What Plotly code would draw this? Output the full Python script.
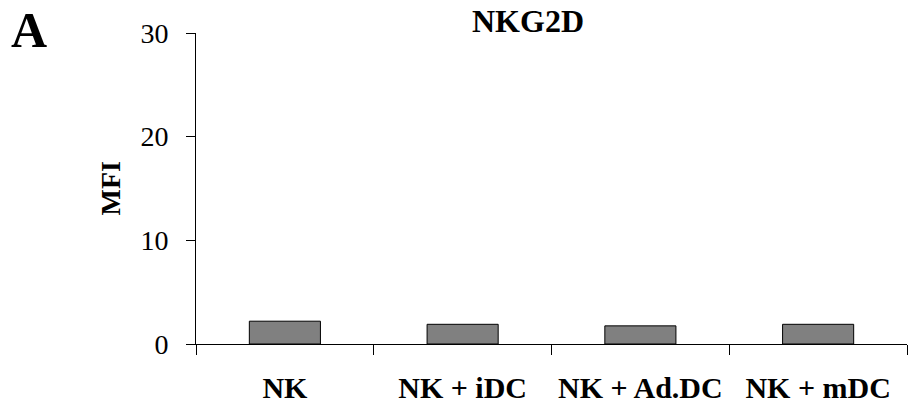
import plotly.graph_objects as go

categories = ["NK", "NK + iDC", "NK + Ad.DC", "NK + mDC"]
mfi_values = [2.2, 1.9, 1.75, 1.9]
y_ticks = [0, 10, 20, 30]

W, H = 908, 410
L, R, T, B = 196, 1, 33, 66
pw = W - L - R

font_family = "Liberation Serif, Times New Roman, serif"

fig = go.Figure()
fig.add_trace(go.Bar(
    x=categories, y=mfi_values,
    marker=dict(color="#808080", line=dict(color="black", width=1)),
    width=0.4,
))

fig.update_layout(
    width=W, height=H,
    margin=dict(l=L, r=R, t=T, b=B),
    paper_bgcolor="white", plot_bgcolor="white",
    font=dict(family=font_family, color="black"),
    showlegend=False,
    title=dict(text="<b>NKG2D</b>", x=528 / W, xanchor="center",
               y=1 - 21 / H, yanchor="middle", xref="container", yref="container",
               font=dict(size=32, family=font_family, color="black")),
    xaxis=dict(
        showline=True, linecolor="black", linewidth=1,
        ticks="outside", tickson="boundaries", ticklen=10, tickcolor="black",
        tickfont=dict(size=30, family=font_family, color="black"),
        ticklabelstandoff=17,
        showgrid=False, zeroline=False,
        tickprefix="<b>", ticksuffix="</b>",
    ),
    yaxis=dict(
        range=[0, 30], tickvals=y_ticks,
        showline=True, linecolor="black", linewidth=1,
        ticks="outside", ticklen=9, tickcolor="black",
        tickfont=dict(size=28, family=font_family, color="black"),
        ticklabelstandoff=12,
        showgrid=False, zeroline=False,
    ),
    bargap=0.6,
)

fig.add_annotation(text="<b>MFI</b>", textangle=-90, showarrow=False,
                   xref="paper", yref="paper",
                   x=(110 - L) / pw, y=0.5, xanchor="center", yanchor="middle",
                   font=dict(size=28, family=font_family, color="black"))
fig.add_annotation(text="<b>A</b>", showarrow=False,
                   xref="paper", yref="paper",
                   x=(29 - L) / pw, y=1 + (T - 30) / (H - T - B),
                   xanchor="center", yanchor="middle",
                   font=dict(size=50, family=font_family, color="black"))

fig.write_html("out.html")
